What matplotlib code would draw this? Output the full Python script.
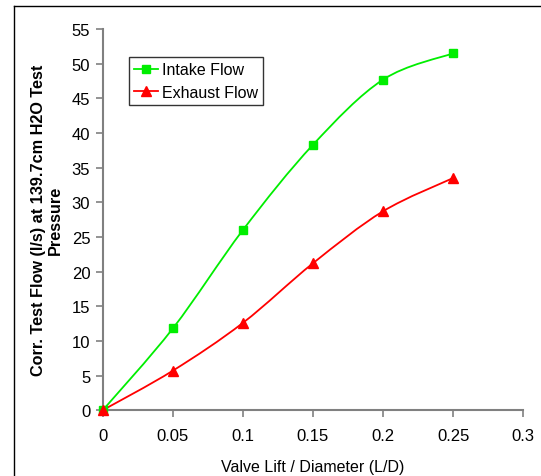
import numpy as np
import matplotlib.pyplot as plt
from matplotlib.path import Path
from matplotlib.patches import PathPatch
from matplotlib.lines import Line2D

plt.rcParams['font.family'] = ['Liberation Sans', 'DejaVu Sans']

# data
ld = [0, 0.05, 0.1, 0.15, 0.2, 0.25]
intake = [0, 11.8, 26.0, 38.3, 47.7, 51.5]
exhaust = [0, 5.7, 12.6, 21.2, 28.7, 33.5]
xticks = [0, 0.05, 0.1, 0.15, 0.2, 0.25, 0.3]
yticks = list(range(0, 56, 5))


def smooth_path(x, y):
    # Excel style smoothed line: catmull-rom converted to bezier segments
    x = np.asarray(x, float)
    y = np.asarray(y, float)
    px = np.concatenate([[x[0]], x, [x[-1]]])
    py = np.concatenate([[y[0]], y, [y[-1]]])
    verts = [(x[0], y[0])]
    codes = [Path.MOVETO]
    for i in range(1, len(px) - 2):
        c1 = (px[i] + (px[i + 1] - px[i - 1]) / 6, py[i] + (py[i + 1] - py[i - 1]) / 6)
        c2 = (px[i + 1] - (px[i + 2] - px[i]) / 6, py[i + 1] - (py[i + 2] - py[i]) / 6)
        verts += [c1, c2, (px[i + 1], py[i + 1])]
        codes += [Path.CURVE4] * 3
    return Path(verts, codes)


fig = plt.figure(figsize=(5.41, 4.77), dpi=100)
ax = fig.add_axes([0.190, 0.138, 0.777, 0.799])

# frame around the chart area (only left/top visible in the picture)
fig.add_artist(Line2D([0.026, 0.026], [0, 0.985], color='black', lw=1.0))
fig.add_artist(Line2D([0.026, 1.0], [0.985, 0.985], color='black', lw=1.0))

green = '#00ee00'
red = '#ff0000'
ax.add_patch(PathPatch(smooth_path(ld, intake), fill=False, edgecolor=green, lw=1.3, clip_on=False))
ax.add_patch(PathPatch(smooth_path(ld, exhaust), fill=False, edgecolor=red, lw=1.3, clip_on=False))
ax.plot(ld, intake, ls='none', marker='s', ms=6, color=green, clip_on=False, zorder=3)
ax.plot(ld, exhaust, ls='none', marker='^', ms=7, color=red, clip_on=False, zorder=3)

h1 = Line2D([], [], color=green, lw=1.3, marker='s', ms=6)
h2 = Line2D([], [], color=red, lw=1.3, marker='^', ms=7)
leg = ax.legend([h1, h2], ['Intake Flow', 'Exhaust Flow'], loc='upper left',
                bbox_to_anchor=(0.062, 0.927), fontsize=11.5, frameon=True,
                fancybox=False, edgecolor='black', handlelength=1.45,
                handletextpad=0.25, borderpad=0.35, labelspacing=0.45,
                borderaxespad=0)
leg.get_frame().set_linewidth(1.0)

ax.set_xlim(0, 0.3)
ax.set_ylim(0, 55)
ax.set_xticks(xticks)
ax.set_xticklabels(['0', '0.05', '0.1', '0.15', '0.2', '0.25', '0.3'])
ax.set_yticks(yticks)
for s in ['top', 'right']:
    ax.spines[s].set_visible(False)
for s in ['left', 'bottom']:
    ax.spines[s].set_color('#808080')
    ax.spines[s].set_linewidth(1.5)
ax.tick_params(direction='out', length=5, width=1.2, color='#808080',
               labelsize=12, pad=8)
ax.tick_params(axis='y', pad=4)

ax.set_xlabel('Valve Lift / Diameter (L/D)', fontsize=11.5, labelpad=11)
ax.set_ylabel('Corr. Test Flow (l/s) at 139.7cm H2O Test\nPressure',
              fontsize=11.7, fontweight='bold', labelpad=6)

fig.savefig('out.png', dpi=100)
